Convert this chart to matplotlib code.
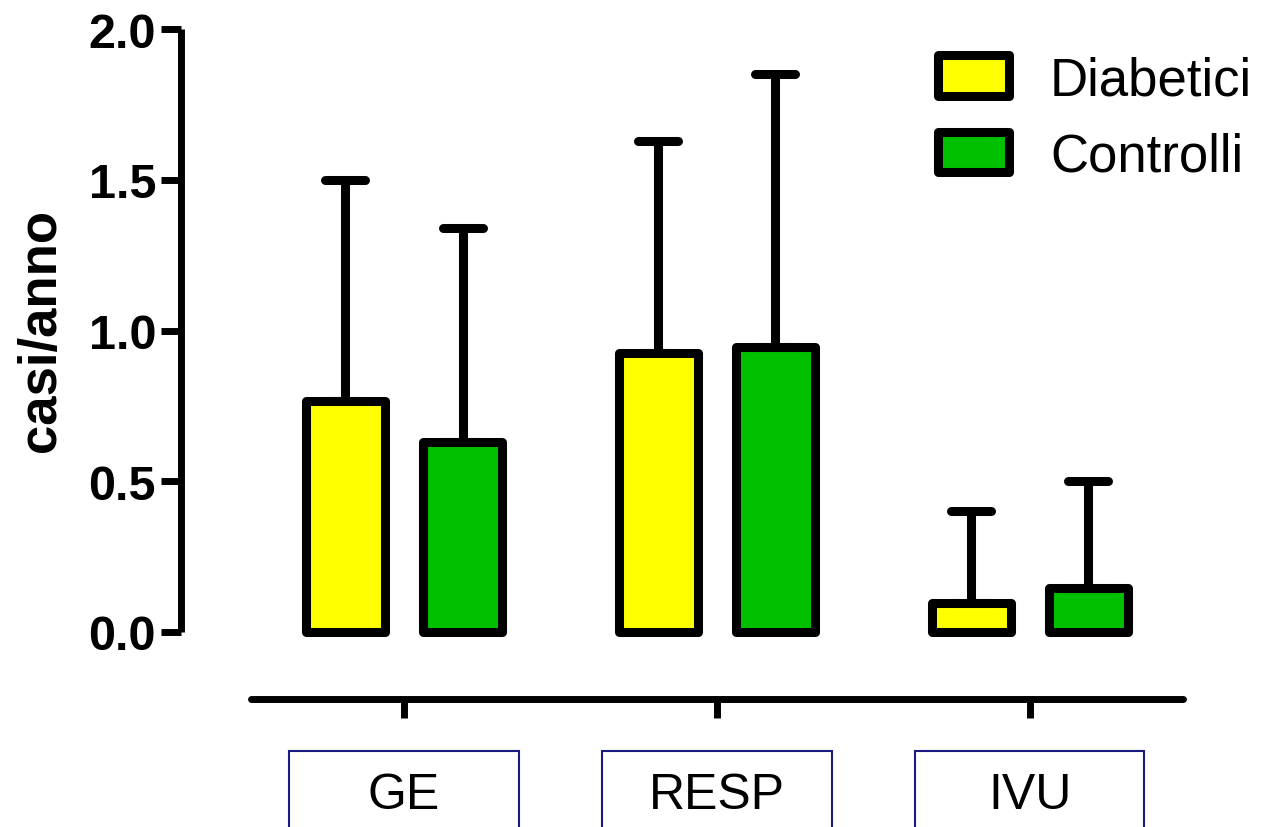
import matplotlib
matplotlib.use("Agg")
import matplotlib.pyplot as plt
import matplotlib.transforms as mtransforms
from matplotlib.patches import Rectangle
from matplotlib.markers import MarkerStyle
import numpy as np

plt.rcParams['font.family'] = ['Liberation Sans', 'DejaVu Sans']

# ---- data ----
categories = ["GE", "RESP", "IVU"]
series_names = ["Diabetici", "Controlli"]
diabetici_mean = [0.765, 0.925, 0.095]
diabetici_sd = [0.735, 0.705, 0.305]
controlli_mean = [0.63, 0.945, 0.145]
controlli_sd = [0.71, 0.905, 0.355]
yticks = [0.0, 0.5, 1.0, 1.5, 2.0]
ytick_labels = ["0.0", "0.5", "1.0", "1.5", "2.0"]
ylabel = "casi/anno"

W, H = 1267, 828
fig = plt.figure(figsize=(W / 100, H / 100), dpi=100)

ax = fig.add_axes([181 / W, (H - 633) / H, 1007 / W, 603 / H])
ax.set_facecolor('none')
ax.set_ylim(0, 2)
ax.set_xlim(-0.7125, 2.505)

x = np.arange(len(categories))
off = 0.187
bw = 0.25
lw = 6.5
ekw = dict(elinewidth=lw, capsize=14.4, capthick=lw, ecolor='black')

b1 = ax.bar(x - off, diabetici_mean, width=bw, color='#FFFF00', edgecolor='black',
            linewidth=lw, yerr=[np.zeros(3), diabetici_sd], error_kw=ekw,
            label=series_names[0], clip_on=False, zorder=3)
b2 = ax.bar(x + off, controlli_mean, width=bw, color='#00C000', edgecolor='black',
            linewidth=lw, yerr=[np.zeros(3), controlli_sd], error_kw=ekw,
            label=series_names[1], clip_on=False, zorder=3)

for bc in (b1, b2):
    for p in bc.patches:
        p.set_joinstyle('round')
    eb = bc.errorbar
    if eb is not None:
        _, caplines, barcols = eb.lines
        for c in caplines:
            ms = c.get_markersize()
            c.set_marker(MarkerStyle('_', capstyle='round'))
            c.set_markersize(ms)
            c.set_clip_on(False)
        for bcol in barcols:
            bcol.set_capstyle('butt')
            bcol.set_clip_on(False)

for s in ['top', 'right', 'bottom']:
    ax.spines[s].set_visible(False)
ax.spines['left'].set_linewidth(5)
ax.spines['left'].set_capstyle('butt')
ax.set_xticks([])
ax.set_yticks(yticks, labels=ytick_labels, fontweight='bold')
ax.tick_params(axis='y', direction='out', length=14.4, width=5, labelsize=35, pad=3.6)

ax.set_ylabel(ylabel, fontsize=38, fontweight='bold')
ax.yaxis.set_label_coords(66 / W, (H - 331) / H, transform=fig.transFigure)

# legend
leg = ax.legend(loc='upper left', bbox_to_anchor=(937.5 / W, 1 - 56 / H),
                bbox_transform=fig.transFigure, frameon=False, borderpad=0,
                borderaxespad=0, fontsize=38, handlelength=1.35, handleheight=0.8,
                handletextpad=0.78, labelspacing=0.5)
for h in leg.legend_handles:
    h.set_joinstyle('round')

# separate category axis
ax2 = fig.add_axes([181 / W, (H - 700) / H, 1007 / W, 0.001])
ax2.set_facecolor('none')
ax2.set_xlim(ax.get_xlim())
for s in ['top', 'right', 'left']:
    ax2.spines[s].set_visible(False)
ax2.spines['bottom'].set_linewidth(5)
ax2.spines['bottom'].set_bounds(-0.49, 2.49)
ax2.spines['bottom'].set_capstyle('round')
ax2.set_yticks([])
ax2.set_xticks(x)
ax2.tick_params(axis='x', direction='out', length=14, width=5, labelbottom=False)

trans = mtransforms.blended_transform_factory(ax2.transData, fig.transFigure)
box_w = 0.732
for i, cat in enumerate(categories):
    r = Rectangle((x[i] - box_w / 2, -0.1), box_w, 0.1 + (H - 752) / H,
                  transform=trans, fill=False, edgecolor='#1a1a80', linewidth=1.5,
                  clip_on=False)
    ax2.add_patch(r)
    ax2.text(x[i], (H - 809) / H, cat, transform=trans, ha='center', va='baseline',
             fontsize=36, clip_on=False)

fig.savefig('out.png', dpi=100)
